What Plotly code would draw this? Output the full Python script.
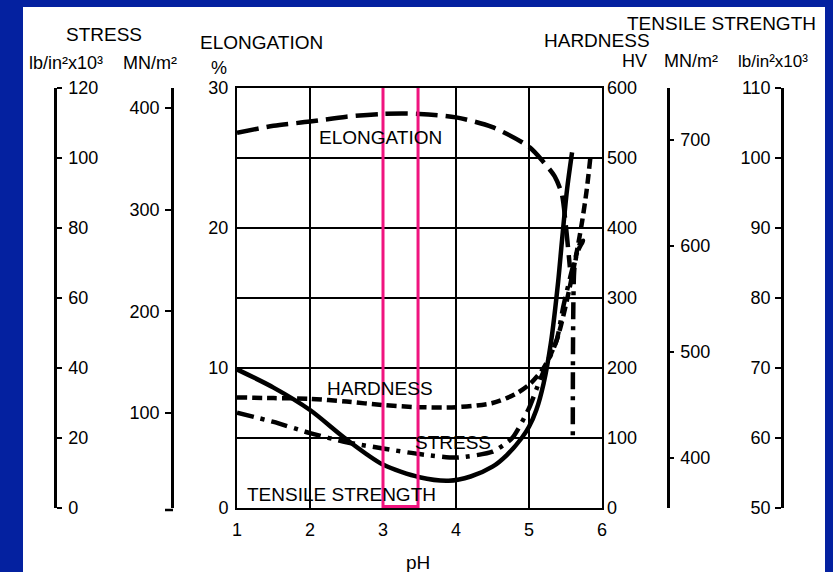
import plotly.graph_objects as go

# ---- data -------------------------------------------------------------
elong_ph = [1.0, 1.5, 2.0, 2.5, 3.0, 3.5, 4.0, 4.5, 5.0, 5.2, 5.35, 5.45, 5.5, 5.56]
elong_pct = [26.8, 27.3, 27.6, 27.95, 28.15, 28.15, 27.9, 27.2, 25.8, 24.7, 23.7, 22.4, 20.4, 17.2]

hard_ph = [1.0, 1.5, 2.0, 2.5, 3.0, 3.5, 4.0, 4.5, 4.8, 5.0, 5.2, 5.38, 5.52, 5.66, 5.73, 5.79, 5.84]
hard_hv = [158, 157, 156, 152, 147, 144, 144, 150, 162, 176, 200, 240, 297, 369, 411, 454, 500]

stress_ph = [1.0, 1.5, 2.0, 2.5, 3.0, 3.5, 4.0, 4.5, 4.77, 5.0, 5.15, 5.38, 5.47, 5.6, 5.7, 5.74, 5.66, 5.62, 5.6]
stress_ksi = [27.2, 24.6, 21.4, 18.8, 17.0, 15.4, 14.4, 16.1, 20.0, 28.5, 36.6, 48.0, 57.6, 68.8, 75.6, 76.4, 73.0, 68.0, 20.8]

tensile_ph = [1.0, 1.5, 2.0, 2.5, 3.0, 3.5, 3.9, 4.2, 4.5, 4.7, 4.9, 5.0, 5.1, 5.2, 5.3, 5.4, 5.45, 5.52, 5.59]
tensile_ksi = [69.8, 67.2, 64.0, 59.8, 56.2, 54.4, 53.9, 54.5, 55.9, 57.6, 60.0, 61.6, 64.0, 67.8, 73.6, 82.4, 88.0, 95.4, 100.8]

ph_ticks = [1, 2, 3, 4, 5, 6]
elong_ticks = [0, 10, 20, 30]
hard_ticks = [0, 100, 200, 300, 400, 500, 600]
stress_lb_ticks = [0, 20, 40, 60, 80, 100, 120]
stress_mn_ticks = [100, 200, 300, 400]
tensile_mn_ticks = [400, 500, 600, 700]
tensile_lb_ticks = [50, 60, 70, 80, 90, 100, 110]

highlight_ph = (3.0, 3.48)

# ---- geometry ---------------------------------------------------------
W, H = 833, 572
MT, MB = 88, 64
PLOT_BOTTOM = H - MB
PLOT_H = H - MT - MB


def fx(x):
    return x / W


def fy(y):
    return (PLOT_BOTTOM - y) / PLOT_H


FONT = "Liberation Sans, Arial, Helvetica, sans-serif"
BLACK = "#000000"
BLUE = "#0421a0"
PINK = "#f0147f"

fig = go.Figure()

fig.add_trace(go.Scatter(
    x=elong_ph, y=elong_pct, yaxis="y", mode="lines", name="Elongation",
    line=dict(color=BLACK, width=4.5, dash="22px,8px", shape="spline", smoothing=0.8)))
fig.add_trace(go.Scatter(
    x=hard_ph, y=hard_hv, yaxis="y2", mode="lines", name="Hardness",
    line=dict(color=BLACK, width=4.5, dash="10px,5px", shape="spline", smoothing=0.8)))
fig.add_trace(go.Scatter(
    x=stress_ph, y=stress_ksi, yaxis="y3", mode="lines", name="Stress",
    line=dict(color=BLACK, width=4.5, dash="17px,7px,4px,7px", shape="spline", smoothing=0.6)))
fig.add_trace(go.Scatter(
    x=tensile_ph, y=tensile_ksi, yaxis="y6", mode="lines", name="Tensile strength",
    line=dict(color=BLACK, width=4.5, shape="spline", smoothing=0.8)))
# the MN/m2 scales carry no curve of their own; attach empty traces so they are drawn
for ax in ("y4", "y5"):
    fig.add_trace(go.Scatter(x=[None], y=[None], yaxis=ax, mode="lines",
                             hoverinfo="skip", showlegend=False))

tickfont = dict(family=FONT, size=18, color=BLACK)
side_axis = dict(overlaying="y", anchor="free", showgrid=False, zeroline=False,
                 showline=True, linecolor=BLACK, linewidth=2.5, ticks="outside",
                 tickcolor=BLACK, tickwidth=2, tickfont=tickfont, automargin=False)

fig.update_layout(
    width=W, height=H,
    margin=dict(l=0, r=0, t=MT, b=MB),
    paper_bgcolor=BLUE, plot_bgcolor="white",
    showlegend=False,
    font=dict(family=FONT, size=18, color=BLACK),
    xaxis=dict(domain=[fx(237), fx(602)], range=[1, 6], tickvals=ph_ticks,
               showgrid=True, gridcolor=BLACK, gridwidth=2, zeroline=False,
               showline=True, mirror=True, linecolor=BLACK, linewidth=2,
               ticks="", ticklabelstandoff=4, tickfont=tickfont, automargin=False),
    yaxis=dict(range=[0, 30], tickvals=elong_ticks, showgrid=False, zeroline=False,
               showline=True, mirror=True, linecolor=BLACK, linewidth=2,
               ticks="", ticklabelstandoff=3, tickfont=tickfont, automargin=False),
    yaxis2=dict(overlaying="y", side="right", anchor="x", range=[0, 600],
                tickvals=hard_ticks, showgrid=True, gridcolor=BLACK, gridwidth=2,
                zeroline=False, showline=False, ticks="", ticklabelstandoff=4,
                tickfont=tickfont, automargin=False),
    yaxis3=dict(side_axis, side="right", position=fx(55), range=[0, 120],
                tickvals=stress_lb_ticks, ticklen=5, ticklabelstandoff=3),
    yaxis4=dict(side_axis, side="left", position=fx(172), range=[6.5, 419.7],
                tickvals=stress_mn_ticks, ticklen=6, ticklabelstandoff=2),
    yaxis5=dict(side_axis, side="right", position=fx(668), range=[352.8, 749],
                tickvals=tensile_mn_ticks, ticklen=4, ticklabelstandoff=3),
    yaxis6=dict(side_axis, side="left", position=fx(782), range=[50, 110],
                tickvals=tensile_lb_ticks, ticklen=6, ticklabelstandoff=1),
)

shapes = [
    # white page
    dict(type="rect", xref="paper", yref="paper", x0=fx(23), x1=fx(825),
         y0=fy(590), y1=fy(7), fillcolor="white", line=dict(width=0), layer="below"),
    # bottom hook of the MN/m2 stress scale
    dict(type="line", xref="paper", yref="paper", x0=fx(165), x1=fx(173),
         y0=fy(510), y1=fy(510), line=dict(color=BLACK, width=2.5)),
    # clear the grid line behind the in-plot STRESS label
    dict(type="rect", xref="paper", yref="paper", x0=fx(412), x1=fx(482),
         y0=fy(451), y1=fy(432), fillcolor="white", line=dict(width=0), layer="between"),
    # highlighted pH band
    dict(type="rect", xref="x", yref="y", x0=highlight_ph[0], x1=highlight_ph[1],
         y0=0.1, y1=30.1, line=dict(color=PINK, width=3), fillcolor="rgba(0,0,0,0)",
         layer="above"),
]
fig.update_layout(shapes=shapes)


def label(text, x, y, xanchor="left", size=19):
    fig.add_annotation(text=text, xref="paper", yref="paper", x=fx(x), y=fy(y),
                       xanchor=xanchor, yanchor="middle", showarrow=False,
                       font=dict(family=FONT, size=size, color=BLACK))


# scale headings, left side
label("STRESS", 104, 34, "center")
label("lb/in²x10³", 27, 63, "left", 18)
label("MN/m²", 121, 63, "left", 18)
label("ELONGATION", 198, 43, "left")
label("%", 219, 68, "center", 18)
# scale headings, right side
label("TENSILE STRENGTH", 818, 23, "right")
label("HARDNESS", 652, 41, "right")
label("HV", 649, 61, "right", 18)
label("MN/m²", 662, 61, "left", 18)
label("lb/in²x10³", 736, 61, "left", 17)
# curve names
label("ELONGATION", 317, 137, "left")
label("HARDNESS", 325, 388, "left")
label("STRESS", 413, 442, "left")
label("TENSILE STRENGTH", 245, 494, "left")
# x-axis title
label("pH", 418, 562, "center")

fig.write_html("out.html")
